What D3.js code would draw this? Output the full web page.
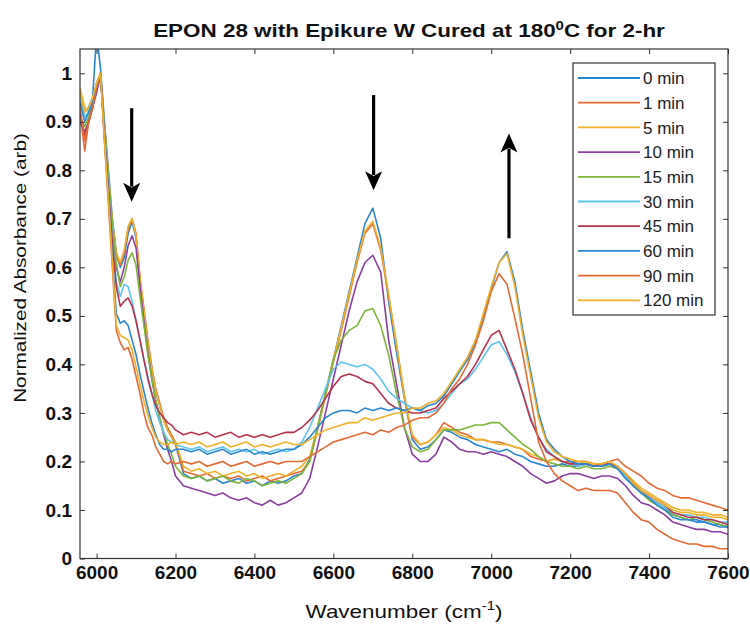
<!DOCTYPE html>
<html><head><meta charset="utf-8">
<script src="https://cdn.jsdelivr.net/npm/d3@7"></script>
<style>body{margin:0;background:#fff;} text{font-family:"Liberation Sans",Arial,sans-serif;}</style>
</head><body>
<svg id="chart" width="750" height="628"></svg>
<script>
// ---------------- DATA ----------------
const wavenumber = [5958,5970,5980,5990,6000,6010,
 6020,6030,6040,6050,6060,6070,6080,6090,6100,6110,6120,6130,6140,6150,6160,6170,6180,6190,6200,
 6220,6240,6260,6280,6300,6320,6340,6360,6380,6400,6420,6440,6460,6480,6500,
 6520,6540,6560,6580,6600,6620,6640,6660,6680,6700,6720,6740,6760,6780,6800,6820,6840,6860,6880,6900,
 6920,6940,6960,6980,7000,7020,7040,7060,7080,7100,7120,7140,7160,7180,7200,
 7220,7240,7260,7280,7300,7320,7340,7360,7380,7400,7420,7440,7460,7480,7500,7520,7540,7560,7580,7600];

const seriesNames = ["0 min","1 min","5 min","10 min","15 min","30 min","45 min","60 min","90 min","120 min"];

const min0 = [0.95,0.92,0.93,0.95,1.08,1.01,
 0.90,0.80,0.70,0.63,0.60,0.62,0.67,0.695,0.66,0.57,0.51,0.445,0.39,0.345,0.315,0.285,0.265,0.25,0.235,
 0.175,0.165,0.17,0.16,0.165,0.155,0.16,0.165,0.155,0.16,0.15,0.16,0.155,0.16,0.17,
 0.175,0.205,0.27,0.34,0.41,0.48,0.55,0.62,0.69,0.722,0.66,0.53,0.425,0.33,0.245,0.225,0.23,0.245,0.265,0.26,
 0.25,0.245,0.235,0.23,0.225,0.22,0.225,0.215,0.21,0.2,0.195,0.19,0.19,0.195,0.19,
 0.19,0.195,0.19,0.19,0.195,0.19,0.17,0.15,0.135,0.125,0.115,0.105,0.09,0.085,0.08,0.08,0.075,0.07,0.07,0.065];
const min1 = [0.92,0.84,0.90,0.93,0.97,1.0,
 0.89,0.79,0.69,0.625,0.605,0.63,0.68,0.70,0.67,0.58,0.515,0.45,0.395,0.35,0.32,0.29,0.27,0.255,0.24,
 0.18,0.175,0.17,0.175,0.165,0.17,0.165,0.17,0.16,0.165,0.17,0.16,0.165,0.17,0.175,
 0.18,0.2,0.265,0.335,0.405,0.47,0.54,0.61,0.67,0.69,0.635,0.54,0.44,0.335,0.25,0.235,0.24,0.255,0.28,0.27,
 0.26,0.255,0.245,0.245,0.24,0.24,0.235,0.23,0.225,0.21,0.205,0.2,0.205,0.2,0.2,
 0.2,0.2,0.195,0.195,0.2,0.205,0.19,0.18,0.17,0.155,0.145,0.14,0.13,0.125,0.125,0.12,0.115,0.11,0.105,0.1];
const min5 = [0.97,0.93,0.92,0.94,0.98,1.0,
 0.89,0.79,0.695,0.63,0.61,0.635,0.685,0.70,0.665,0.575,0.51,0.445,0.39,0.345,0.315,0.285,0.265,0.25,0.24,
 0.19,0.18,0.185,0.175,0.18,0.17,0.175,0.18,0.17,0.175,0.165,0.17,0.175,0.17,0.18,
 0.19,0.21,0.27,0.34,0.41,0.475,0.545,0.615,0.675,0.695,0.64,0.545,0.44,0.335,0.255,0.235,0.24,0.255,0.27,0.265,
 0.255,0.25,0.245,0.245,0.24,0.235,0.235,0.23,0.225,0.215,0.21,0.2,0.205,0.2,0.195,
 0.195,0.2,0.19,0.19,0.195,0.19,0.175,0.16,0.145,0.135,0.125,0.115,0.105,0.1,0.1,0.095,0.095,0.09,0.09,0.085];
const min10 = [0.90,0.88,0.90,0.93,0.96,0.995,
 0.88,0.78,0.68,0.6,0.57,0.6,0.645,0.665,0.64,0.56,0.49,0.425,0.37,0.325,0.29,0.255,0.225,0.2,0.17,
 0.15,0.145,0.14,0.135,0.13,0.135,0.125,0.12,0.125,0.115,0.11,0.12,0.11,0.115,0.125,
 0.135,0.165,0.23,0.3,0.37,0.44,0.51,0.57,0.61,0.625,0.59,0.45,0.36,0.27,0.215,0.2,0.2,0.215,0.25,0.24,
 0.225,0.22,0.22,0.215,0.22,0.215,0.21,0.2,0.19,0.175,0.165,0.155,0.16,0.17,0.175,
 0.175,0.17,0.165,0.17,0.17,0.165,0.15,0.13,0.115,0.11,0.1,0.09,0.075,0.07,0.065,0.06,0.06,0.055,0.055,0.05];
const min15 = [0.91,0.89,0.91,0.94,0.97,1.0,
 0.89,0.79,0.69,0.61,0.56,0.58,0.615,0.63,0.605,0.54,0.48,0.42,0.37,0.325,0.29,0.26,0.235,0.215,0.19,
 0.17,0.165,0.17,0.16,0.165,0.17,0.16,0.155,0.165,0.16,0.15,0.155,0.16,0.155,0.165,
 0.175,0.2,0.27,0.34,0.41,0.45,0.47,0.48,0.51,0.515,0.48,0.42,0.34,0.27,0.23,0.22,0.225,0.245,0.265,0.265,
 0.265,0.27,0.275,0.275,0.28,0.28,0.265,0.25,0.235,0.225,0.21,0.2,0.195,0.19,0.19,
 0.185,0.19,0.185,0.185,0.19,0.185,0.17,0.15,0.135,0.12,0.11,0.1,0.09,0.085,0.08,0.085,0.08,0.075,0.07,0.065];
const min30 = [0.95,0.91,0.92,0.95,0.98,1.0,
 0.88,0.77,0.66,0.57,0.54,0.565,0.56,0.53,0.49,0.45,0.41,0.375,0.34,0.305,0.28,0.26,0.245,0.24,0.235,
 0.23,0.225,0.23,0.22,0.225,0.23,0.22,0.225,0.22,0.225,0.215,0.22,0.225,0.22,0.225,
 0.24,0.27,0.31,0.35,0.39,0.405,0.4,0.395,0.4,0.39,0.37,0.345,0.33,0.32,0.31,0.305,0.3,0.305,0.32,0.34,
 0.36,0.37,0.39,0.415,0.44,0.447,0.42,0.385,0.34,0.29,0.25,0.225,0.21,0.2,0.195,
 0.19,0.195,0.19,0.19,0.195,0.185,0.17,0.15,0.14,0.125,0.115,0.105,0.095,0.09,0.09,0.085,0.085,0.08,0.075,0.075];
const min45 = [0.92,0.87,0.90,0.93,0.97,1.0,
 0.87,0.76,0.65,0.56,0.52,0.53,0.537,0.52,0.49,0.45,0.41,0.37,0.34,0.315,0.3,0.29,0.28,0.275,0.265,
 0.255,0.26,0.255,0.26,0.25,0.255,0.26,0.25,0.255,0.25,0.255,0.25,0.255,0.26,0.26,
 0.27,0.285,0.305,0.33,0.355,0.375,0.38,0.375,0.365,0.36,0.34,0.32,0.31,0.305,0.3,0.3,0.305,0.31,0.33,0.345,
 0.36,0.375,0.4,0.43,0.46,0.47,0.43,0.39,0.34,0.285,0.25,0.22,0.21,0.2,0.195,
 0.195,0.195,0.19,0.195,0.195,0.19,0.175,0.155,0.14,0.13,0.12,0.11,0.095,0.09,0.085,0.085,0.08,0.08,0.075,0.07];
const min60 = [0.94,0.90,0.92,0.94,0.97,1.0,
 0.87,0.75,0.62,0.505,0.485,0.49,0.48,0.45,0.42,0.38,0.345,0.31,0.28,0.255,0.235,0.225,0.225,0.22,0.225,
 0.225,0.22,0.225,0.215,0.22,0.225,0.215,0.22,0.225,0.215,0.22,0.215,0.22,0.225,0.225,
 0.235,0.25,0.27,0.29,0.3,0.305,0.305,0.3,0.31,0.305,0.31,0.305,0.31,0.305,0.31,0.305,0.315,0.32,0.335,0.36,
 0.385,0.41,0.445,0.5,0.555,0.61,0.632,0.57,0.47,0.385,0.3,0.245,0.225,0.21,0.2,
 0.195,0.195,0.19,0.19,0.195,0.185,0.165,0.15,0.135,0.125,0.11,0.1,0.085,0.08,0.08,0.075,0.075,0.07,0.065,0.065];
const min90 = [0.93,0.86,0.90,0.93,0.97,1.0,
 0.86,0.73,0.6,0.47,0.445,0.43,0.435,0.41,0.375,0.34,0.3,0.27,0.255,0.23,0.215,0.2,0.195,0.2,0.195,
 0.2,0.195,0.2,0.19,0.195,0.2,0.19,0.195,0.2,0.19,0.195,0.2,0.195,0.2,0.2,
 0.2,0.21,0.22,0.23,0.24,0.245,0.25,0.255,0.26,0.255,0.265,0.26,0.27,0.275,0.285,0.29,0.29,0.3,0.32,0.35,
 0.37,0.4,0.44,0.49,0.55,0.587,0.565,0.495,0.42,0.33,0.24,0.2,0.175,0.16,0.15,
 0.14,0.145,0.14,0.14,0.14,0.135,0.115,0.095,0.08,0.075,0.06,0.05,0.04,0.035,0.03,0.03,0.025,0.025,0.02,0.02];
const min120 = [0.96,0.92,0.93,0.95,0.98,1.0,
 0.86,0.74,0.61,0.48,0.46,0.455,0.45,0.43,0.395,0.36,0.325,0.295,0.27,0.25,0.24,0.235,0.235,0.24,0.235,
 0.24,0.235,0.24,0.23,0.235,0.24,0.23,0.235,0.24,0.23,0.235,0.23,0.235,0.24,0.235,
 0.235,0.245,0.255,0.265,0.27,0.275,0.28,0.28,0.29,0.285,0.29,0.295,0.3,0.3,0.31,0.31,0.32,0.325,0.34,0.365,
 0.39,0.415,0.45,0.505,0.56,0.61,0.628,0.56,0.46,0.375,0.29,0.24,0.22,0.21,0.205,
 0.2,0.2,0.195,0.195,0.2,0.19,0.175,0.155,0.14,0.13,0.12,0.11,0.1,0.095,0.095,0.09,0.09,0.085,0.085,0.08];

const seriesValues = [min0,min1,min5,min10,min15,min30,min45,min60,min90,min120];
const seriesColors = ["#2a86cf","#e36a35","#efb22a","#8a3f9e","#7db53a","#5cc4f0","#b5334d","#2a86cf","#e36a35","#efb22a"];

const xTicks = [6000,6200,6400,6600,6800,7000,7200,7400,7600];
const yTicks = [0,0.1,0.2,0.3,0.4,0.5,0.6,0.7,0.8,0.9,1];

// annotation arrows (wavenumber, start value, tip value)
const arrowWavenumber = [6089, 6702, 7045];
const arrowFrom = [0.928, 0.955, 0.66];
const arrowTo = [0.735, 0.759, 0.876];

// ---------------- DRAW ----------------
const svg = d3.select("#chart");
const L = 80, R = 728, T = 49, B = 558.5;
const x = d3.scaleLinear().domain([5958, 7600]).range([L, R]);
const y = d3.scaleLinear().domain([0, 1.05]).range([B, T]);

svg.append("defs").append("clipPath").attr("id","clip")
  .append("rect").attr("x",L).attr("y",T).attr("width",R-L).attr("height",B-T);

const line = d3.line().x((d,i)=>x(wavenumber[i])).y(d=>y(d));
const g = svg.append("g").attr("clip-path","url(#clip)");
seriesValues.forEach((vals,k)=>{
  g.append("path").attr("d", line(vals)).attr("fill","none")
   .attr("stroke", seriesColors[k]).attr("stroke-width",1.6).attr("stroke-linejoin","round");
});

// axes
const axColor = "#333";
const fontTick = 19;
const ax1 = svg.append("g").attr("transform",`translate(0,${B})`)
  .call(d3.axisBottom(x).tickValues(xTicks).tickSize(-5).tickSizeOuter(0).tickPadding(7).tickFormat(d3.format("d")));
const ax2 = svg.append("g").attr("transform",`translate(0,${T})`)
  .call(d3.axisTop(x).tickValues(xTicks).tickSize(-5).tickSizeOuter(0).tickFormat(""));
const ay1 = svg.append("g").attr("transform",`translate(${L},0)`)
  .call(d3.axisLeft(y).tickValues(yTicks).tickSize(-5).tickSizeOuter(0).tickPadding(8).tickFormat(d3.format("~g")));
const ay2 = svg.append("g").attr("transform",`translate(${R},0)`)
  .call(d3.axisRight(y).tickValues(yTicks).tickSize(-5).tickSizeOuter(0).tickFormat(""));
[ax1,ax2,ay1,ay2].forEach(a=>{
  a.select(".domain").remove();
  a.selectAll("line").attr("stroke",axColor).attr("stroke-width",1);
  a.selectAll("text").attr("fill","#111").style("font-size",fontTick+"px").style("font-weight","bold")
   .style("font-family","'Liberation Sans',Arial,sans-serif");
});
svg.append("rect").attr("x",L).attr("y",T).attr("width",R-L).attr("height",B-T)
  .attr("fill","none").attr("stroke",axColor).attr("stroke-width",1.2);

// helper to stretch text horizontally to a target width
function fitWidth(sel, target, cx){
  const w = sel.node().getComputedTextLength();
  const s = target / w;
  sel.attr("transform", `translate(${cx},0) scale(${s},1) translate(${-cx},0)`);
}

// title
const title = svg.append("text").attr("x",409).attr("y",37).attr("text-anchor","middle")
  .style("font-size","18px").style("font-weight","bold").attr("fill","#111");
title.append("tspan").text("EPON 28 with Epikure W Cured at 180");
title.append("tspan").text("0").attr("dy",-7).style("font-size","12px");
title.append("tspan").text("C for 2-hr").attr("dy",7);
fitWidth(title, 512, 409);

// x label
const xl = svg.append("text").attr("x",404).attr("y",618).attr("text-anchor","middle")
  .style("font-size","18px").attr("fill","#111");
xl.append("tspan").text("Wavenumber (cm");
xl.append("tspan").text("-1").attr("dy",-8).style("font-size","12px");
xl.append("tspan").text(")").attr("dy",8);
fitWidth(xl, 197, 404);

// y label
const yl = svg.append("text").attr("transform","translate(26,268) rotate(-90)").attr("text-anchor","middle")
  .style("font-size","16px").attr("fill","#111").text("Normalized Absorbance (arb)");
{
  const w = yl.node().getComputedTextLength();
  yl.attr("transform",`translate(26,268) rotate(-90) scale(${270/w},1)`);
}

// arrows
arrowWavenumber.forEach((w,i)=>{
  const ax = x(w), y0 = y(arrowFrom[i]), y1 = y(arrowTo[i]);
  const dir = y1 > y0 ? 1 : -1;
  const headLen = 19, headW = 8.5;
  svg.append("line").attr("x1",ax).attr("x2",ax).attr("y1",y0).attr("y2",y1 - dir*headLen*0.8)
    .attr("stroke","#000").attr("stroke-width",3.2);
  svg.append("path").attr("d",
    `M${ax},${y1} L${ax-headW},${y1-dir*headLen} L${ax},${y1-dir*headLen*0.75} L${ax+headW},${y1-dir*headLen} Z`)
    .attr("fill","#000");
});

// legend
const lg = svg.append("g");
lg.append("rect").attr("x",573).attr("y",63).attr("width",142).attr("height",252)
  .attr("fill","#fff").attr("stroke","#333").attr("stroke-width",1.2);
seriesNames.forEach((n,i)=>{
  const yy = 78 + i*24.7;
  lg.append("line").attr("x1",578).attr("x2",640).attr("y1",yy).attr("y2",yy)
    .attr("stroke",seriesColors[i]).attr("stroke-width",1.8);
  lg.append("text").attr("x",643).attr("y",yy).attr("dy","0.36em").style("font-size","17px")
    .attr("fill","#222").text(n);
});
</script>
</body></html>
